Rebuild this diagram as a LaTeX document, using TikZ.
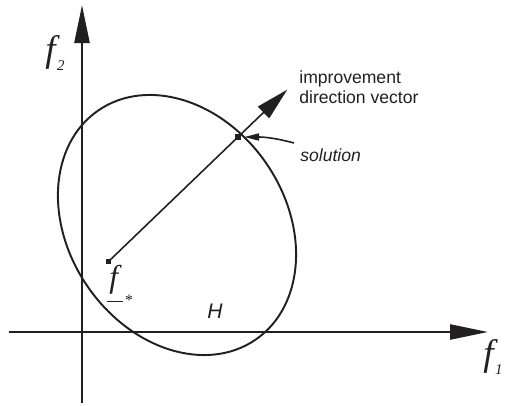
\documentclass[tikz,border=0pt]{standalone}
\usepackage{fontspec}
\setmainfont{Liberation Serif}
\setsansfont{Liberation Sans}
\usetikzlibrary{arrows.meta, calc}
\definecolor{inkK}{HTML}{231F20}
\newcommand{\flabel}[2]{{\fontsize{21}{21}\selectfont\itshape #1}%
  \hspace{0.03cm}\raisebox{-0.19cm}{\fontsize{8.5}{8.5}\selectfont\itshape #2}}

\begin{document}
\begin{tikzpicture}[
  axis/.style={-{Triangle[length=0.76cm, width=0.3cm]}, line width=1.4pt, inkK},
  vecarr/.style={-{Triangle[length=0.66cm, width=0.32cm]}, line width=0.9pt, inkK},
  ptr/.style={-{Triangle[length=0.3cm, width=0.14cm]}, line width=0.9pt, inkK},
  region/.style={line width=1.1pt, inkK},
  dotbox/.style={rectangle, fill=inkK, inner sep=0pt, minimum size=0.11cm},
  flab/.style={anchor=base west, inner sep=0pt, text=inkK},
  note/.style={font=\sffamily\fontsize{10}{11.4}\selectfont, text=inkK,
    inner sep=0pt, align=left}
]
\useasboundingbox (0,0) rectangle (10.1,8.1);

%% ═══ AXES ═══
\coordinate (xleft) at (0.18,1.46);
\coordinate (xright) at (9.76,1.46);
\coordinate (ybot) at (1.64,0.05);
\coordinate (ytop) at (1.64,8.0);
\draw[axis] (xleft) -- (xright);
\draw[axis] (ybot) -- (ytop);

\node[flab] (f2) at (0.9,6.88) {\flabel{f}{2}};
\node[flab] (f1) at (9.66,0.8) {\flabel{f}{1}};

%% ═══ REGION H ═══
\draw[region] (3.54,3.6) ellipse[x radius=2.78cm, y radius=2.17cm, rotate=-55.6];
\node[flab, font=\sffamily\itshape\fontsize{12}{12}\selectfont] (hlab) at (4.14,1.74) {H};

%% ═══ IDEAL POINT AND SOLUTION ═══
\node[dotbox] (fs) at (2.166,2.866) {};
\node[dotbox] (sol) at (4.76,5.36) {};
\coordinate (dirtip) at ($(fs)!1.38!(sol)$);
\draw[vecarr] (fs.center) -- (dirtip);

\node[flab] (fslab) at (2.18,2.36)
  {{\fontsize{18}{18}\selectfont\itshape
    \makebox[0pt][l]{\hspace{-0.04cm}\rule[-0.3cm]{0.32cm}{0.8pt}}f}%
   \hspace{0.14cm}\raisebox{-0.37cm}{\fontsize{9}{9}\selectfont *}};

%% ═══ LABELS ═══
\node[note, anchor=north west] (dirlab) at (5.98,6.69)
  {improvement\\direction vector};
\node[note, anchor=base west, font=\sffamily\itshape\fontsize{10}{11.4}\selectfont]
  (sollab) at (6.0,4.88) {solution};
\coordinate (soltail) at (5.88,5.24);
\draw[ptr] (soltail) to[out=165, in=0] ([xshift=0.06cm]sol.east);

\end{tikzpicture}
\end{document}
